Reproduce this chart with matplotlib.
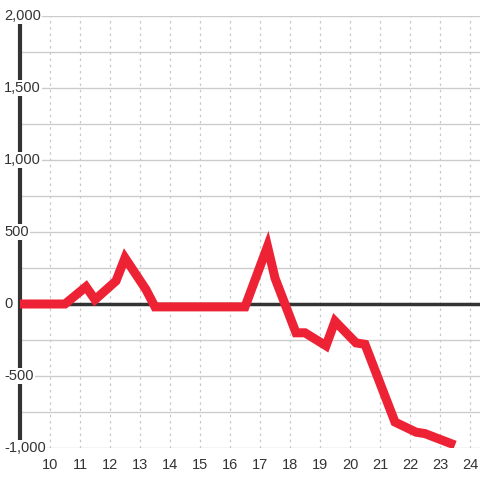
import matplotlib
matplotlib.use("Agg")
import matplotlib.pyplot as plt
from matplotlib.transforms import blended_transform_factory

hours = [9.0, 10.5, 11.2, 11.5, 12.2, 12.5, 13.2, 13.5, 16.5, 17.25, 17.5,
         18.2, 18.5, 19.2, 19.5, 20.2, 20.5, 21.5, 22.2, 22.5, 23.5]
values = [0, 0, 120, 30, 160, 320, 100, -20, -20, 400, 180,
          -200, -200, -290, -120, -270, -280, -820, -890, -900, -980]
xticks = list(range(10, 25))
yticks = [-1000, -500, 0, 500, 1000, 1500, 2000]
ylabels = ["-1,000", "-500", "0", "500", "1,000", "1,500", "2,000"]

plt.rcParams['font.family'] = ['Liberation Sans', 'DejaVu Sans']

fig = plt.figure(figsize=(4.8, 4.8), dpi=100)
ax = fig.add_axes([20 / 480, 32 / 480, 462 / 480, 432 / 480])

ax.set_xlim(9, 24.4)
ax.set_ylim(-1000, 2000)

# grid
for y in range(-1000, 2001, 250):
    ax.axhline(y, color="#cccccc", lw=1, zorder=1)
for x in xticks:
    ax.axvline(x, color="#c8c8c8", lw=0.9, ls=(0, (2, 3)), zorder=1)
ax.axhline(0, color="#333333", lw=2.5, zorder=2)

ax.plot(hours, values, color="#ee2235", lw=6.5, solid_joinstyle="miter",
        solid_capstyle="butt", zorder=3)

for s in ["top", "right", "bottom"]:
    ax.spines[s].set_visible(False)
ax.spines["left"].set_color("#333333")
ax.spines["left"].set_linewidth(3)

ax.set_xticks(xticks)
ax.set_yticks([])
ax.tick_params(axis="x", length=0, labelsize=10.5, colors="#333333", pad=7)

# y labels sit on top of the axis line with a white backing
trans = blended_transform_factory(fig.transFigure, ax.transData)
for v, lab in zip(yticks, ylabels):
    ax.text(4 / 480, v, lab, transform=trans, ha="left", va="center",
            fontsize=10.5, color="#333333", zorder=10, clip_on=False,
            bbox=dict(facecolor="white", edgecolor="none", pad=1))

fig.savefig("out.png", dpi=100)
